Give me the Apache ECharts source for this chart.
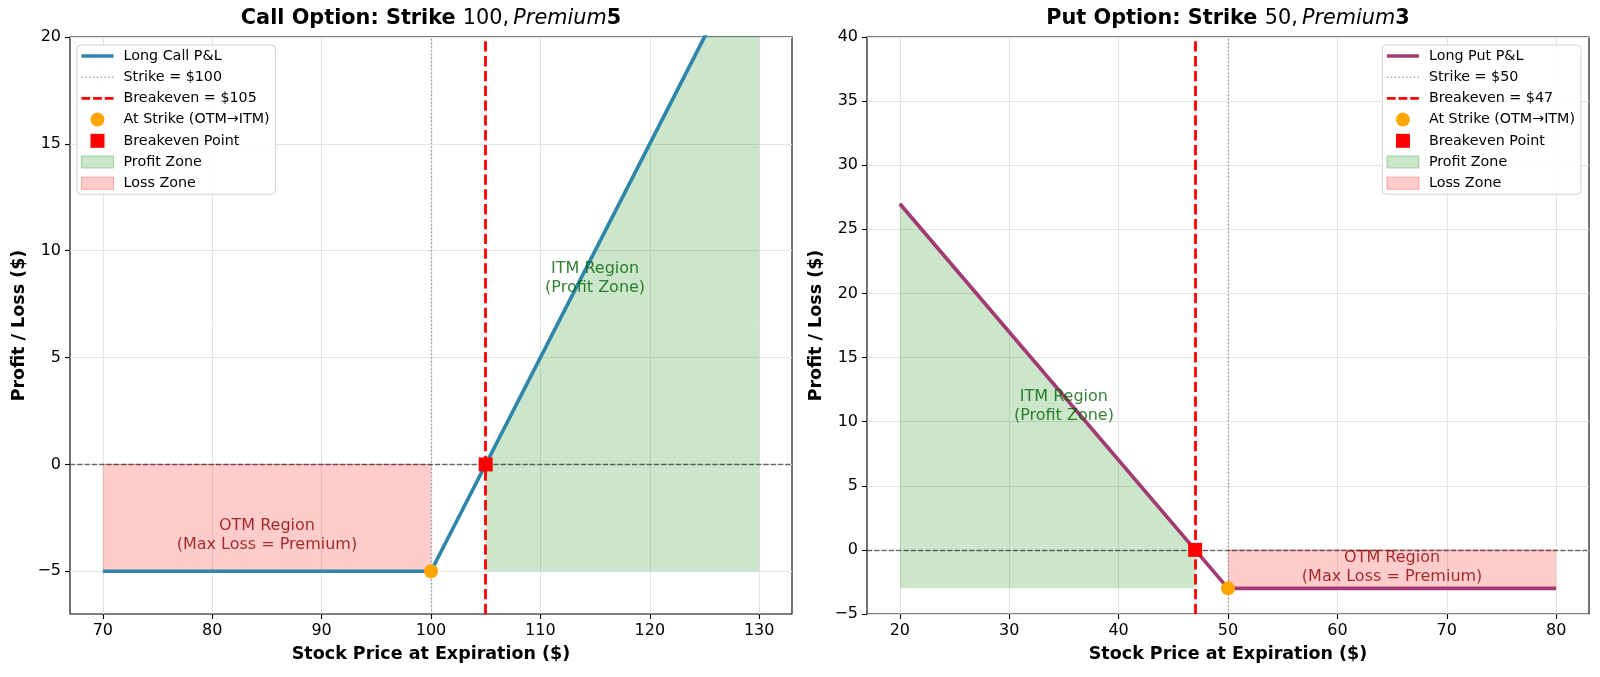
<!DOCTYPE html>
<html lang="en">
<head>
<meta charset="UTF-8">
<title>Option P&amp;L</title>
<script src="https://cdn.jsdelivr.net/npm/echarts@6/dist/echarts.min.js"></script>
<style>
    html, body { margin: 0; padding: 0; background: #fff; }
    #chart { width: 1600px; height: 677px; }
</style>
</head>
<body>
<div id="chart"></div>
<script>
    // call option
    const callPrice = [70, 100, 130];
    const callPnl = [-5, -5, 25];
    const callStrike = 100;
    const callBreakeven = 105;
    const callPremium = 5;
    const callProfitX = [105, 130];
    const callProfitTop = [0, 25];
    const callLossX = [70, 100];
    const callLossTop = [0, 0];
    const callXTicks = [70, 80, 90, 100, 110, 120, 130];
    const callYTicks = [-5, 0, 5, 10, 15, 20];
    const callXRange = [67, 133];
    const callYRange = [-7, 20];
    const callItmText = [115, 8.7];
    const callOtmText = [85, -3.3];

    // put option
    const putPrice = [20, 50, 80];
    const putPnl = [27, -3, -3];
    const putStrike = 50;
    const putBreakeven = 47;
    const putPremium = 3;
    const putProfitX = [20, 47];
    const putProfitTop = [27, 0];
    const putLossX = [50, 80];
    const putLossTop = [0, 0];
    const putXTicks = [20, 30, 40, 50, 60, 70, 80];
    const putYTicks = [-5, 0, 5, 10, 15, 20, 25, 30, 35, 40];
    const putXRange = [17, 83];
    const putYRange = [-5, 40];
    const putItmText = [35, 11.2];
    const putOtmText = [65, -1.4];

    const FONT = 'DejaVu Sans';
    const minus = v => String(v).replace('-', '\u2212');

    const dotPath = (() => {
        let p = 'path://';
        for (let x = 0; x < 32; x += 3.7) p += `M${x.toFixed(1)},0h1.4v1.4h-1.4z `;
        return p;
    })();
    const dashPath = 'path://M0,0h9v2.8h-9z M12,0h9v2.8h-9z M24,0h9v2.8h-9z';
    const solidPath = 'path://M0,0h32v3.5h-32z';
    const squarePath = 'path://M0,0h10v10h-10z';
    const patchPath = 'path://M0,0h29v11h-29z';

    const panels = [
        {
            kind: 'Call', color: '#2E86AB', price: callPrice, pnl: callPnl, strike: callStrike,
            breakeven: callBreakeven, premium: callPremium, profitX: callProfitX, profitTop: callProfitTop,
            lossX: callLossX, lossTop: callLossTop, xTicks: callXTicks, yTicks: callYTicks,
            xRange: callXRange, yRange: callYRange, itm: callItmText, otm: callOtmText,
            left: 70
        },
        {
            kind: 'Put', color: '#A23B72', price: putPrice, pnl: putPnl, strike: putStrike,
            breakeven: putBreakeven, premium: putPremium, profitX: putProfitX, profitTop: putProfitTop,
            lossX: putLossX, lossTop: putLossTop, xTicks: putXTicks, yTicks: putYTicks,
            xRange: putXRange, yRange: putYRange, itm: putItmText, otm: putOtmText,
            left: 867
        }
    ];

    const grids = [], xAxes = [], yAxes = [], titles = [], legends = [], series = [];

    panels.forEach((p, i) => {
        grids.push({
            left: p.left, top: 37, width: 722, height: 577,
            show: true, borderColor: '#000', borderWidth: 1.1
        });
        xAxes.push({
            gridIndex: i, type: 'value', min: p.xRange[0], max: p.xRange[1],
            splitLine: { show: false }, axisLine: { show: false, onZero: false },
            axisTick: { show: true, customValues: p.xTicks, length: 5, lineStyle: { color: '#000', width: 1.1 } },
            axisLabel: { customValues: p.xTicks, margin: 9, fontSize: 16, color: '#000', fontFamily: FONT, formatter: minus },
            name: 'Stock Price at Expiration ($)', nameLocation: 'middle', nameGap: 31,
            nameTextStyle: { fontWeight: 'bold', fontSize: 17.5, color: '#000', fontFamily: FONT }
        });
        yAxes.push({
            gridIndex: i, type: 'value', min: p.yRange[0], max: p.yRange[1],
            splitLine: { show: false }, axisLine: { show: false, onZero: false },
            axisTick: { show: true, customValues: p.yTicks, length: 5, lineStyle: { color: '#000', width: 1.1 } },
            axisLabel: { customValues: p.yTicks, margin: 9, fontSize: 16, color: '#000', fontFamily: FONT, formatter: minus },
            name: 'Profit / Loss ($)', nameLocation: 'middle', nameGap: 42,
            nameTextStyle: { fontWeight: 'bold', fontSize: 17.5, color: '#000', fontFamily: FONT }
        });
        titles.push({
            left: p.left + 361, top: 6, textAlign: 'center', padding: 0,
            text: `{b|${p.kind} Option: Strike }{n|${p.strike},\u2009}{i|Premium}{b|${p.premium}}`,
            textStyle: {
                rich: {
                    b: { fontFamily: FONT, fontWeight: 'bold', fontSize: 20.8, color: '#000', lineHeight: 25 },
                    n: { fontFamily: FONT, fontWeight: 'normal', fontSize: 20.8, color: '#000', lineHeight: 25 },
                    i: { fontFamily: FONT, fontWeight: 'normal', fontStyle: 'italic', fontSize: 20.8, color: '#000', lineHeight: 25 }
                }
            }
        });

        const lineName = `Long ${p.kind} P&L`;
        const strikeName = `Strike = $${p.strike}`;
        const beName = `Breakeven = $${p.breakeven}`;
        const ax = { xAxisIndex: i, yAxisIndex: i };

        const legendPos = i === 0 ? { left: 77 } : { right: 19 };
        legends.push(Object.assign({
            top: 45, orient: 'vertical', selectedMode: false,
            itemWidth: 32, itemHeight: 14, itemGap: 7.2,
            padding: [4, 6, 4, 4],
            backgroundColor: 'rgba(255,255,255,0.85)', borderColor: '#d3d3d3', borderWidth: 1, borderRadius: 4,
            textStyle: { fontFamily: FONT, fontSize: 14.3, lineHeight: 14, color: '#000', padding: [0, 0, 0, 5] },
            data: [
                { name: lineName, icon: solidPath, itemStyle: { color: p.color, borderWidth: 0 } },
                { name: strikeName, icon: dotPath, itemStyle: { color: 'rgba(128,128,128,0.7)', borderWidth: 0 } },
                { name: beName, icon: dashPath, itemStyle: { color: 'red', borderWidth: 0 } },
                { name: 'At Strike (OTM\u2192ITM)', icon: 'circle', itemStyle: { color: 'orange', borderWidth: 0 } },
                { name: 'Breakeven Point', icon: squarePath, itemStyle: { color: 'red', borderWidth: 0 } },
                { name: 'Profit Zone', icon: patchPath, itemStyle: { color: 'rgba(0,128,0,0.2)', borderColor: 'rgba(0,128,0,0.3)', borderWidth: 1 } },
                { name: 'Loss Zone', icon: patchPath, itemStyle: { color: 'rgba(255,0,0,0.2)', borderColor: 'rgba(255,0,0,0.3)', borderWidth: 1 } }
            ]
        }, legendPos));

        // grid lines
        series.push(Object.assign({
            type: 'line', data: [], silent: true, z: 0,
            markLine: {
                silent: true, symbol: 'none', z: 0, animation: false, label: { show: false },
                lineStyle: { color: '#e4e4e4', width: 1, type: 'solid' },
                data: [...p.xTicks.map(v => ({ xAxis: v })), ...p.yTicks.map(v => ({ yAxis: v }))]
            }
        }, ax));

        // zones
        series.push(Object.assign({
            name: 'Profit Zone', type: 'line', symbol: 'none', z: 1, silent: true,
            data: p.profitX.map((x, k) => [x, p.profitTop[k]]),
            lineStyle: { width: 1.2, color: 'rgba(0,128,0,0.25)' },
            areaStyle: { color: 'rgba(0,128,0,0.2)', opacity: 1, origin: -p.premium }
        }, ax));
        series.push(Object.assign({
            name: 'Loss Zone', type: 'line', symbol: 'none', z: 1, silent: true,
            data: p.lossX.map((x, k) => [x, p.lossTop[k]]),
            lineStyle: { width: 1.2, color: 'rgba(255,0,0,0.25)' },
            areaStyle: { color: 'rgba(255,0,0,0.2)', opacity: 1, origin: -p.premium }
        }, ax));

        // strike, breakeven, zero
        series.push(Object.assign({
            name: strikeName, type: 'line', data: [], silent: true,
            lineStyle: { color: 'gray', width: 1.4, type: [1.4, 2.3] },
            markLine: {
                silent: true, symbol: 'none', z: 2, animation: false, label: { show: false },
                lineStyle: { color: 'rgba(128,128,128,0.8)', width: 1.4, type: [1.4, 2.3] },
                data: [{ xAxis: p.strike }]
            }
        }, ax));
        series.push(Object.assign({
            type: 'line', data: [], silent: true,
            markLine: {
                silent: true, symbol: 'none', z: 2, animation: false, label: { show: false },
                lineStyle: { color: 'rgba(0,0,0,0.55)', width: 1.3, type: [5.1, 2.2] },
                data: [{ yAxis: 0 }]
            }
        }, ax));
        series.push(Object.assign({
            name: lineName, type: 'line', symbol: 'none', z: 3, silent: true,
            data: p.price.map((x, k) => [x, p.pnl[k]]),
            lineStyle: { color: p.color, width: 3.7 }
        }, ax));
        series.push(Object.assign({
            name: beName, type: 'line', data: [], silent: true,
            lineStyle: { color: 'red', width: 2.8, type: [10.3, 4.5] },
            markLine: {
                silent: true, symbol: 'none', z: 4, animation: false, label: { show: false },
                lineStyle: { color: 'red', width: 2.8, type: [10.3, 4.5] },
                data: [{ xAxis: p.breakeven }]
            }
        }, ax));

        // markers
        series.push(Object.assign({
            name: 'At Strike (OTM\u2192ITM)', type: 'scatter', symbol: 'circle', symbolSize: 14, z: 6, silent: true,
            data: [[p.strike, -p.premium]], itemStyle: { color: 'orange', opacity: 1 }
        }, ax));
        series.push(Object.assign({
            name: 'Breakeven Point', type: 'scatter', symbol: 'rect', symbolSize: 14, z: 7, silent: true,
            data: [[p.breakeven, 0]], itemStyle: { color: 'red', opacity: 1 }
        }, ax));

        // region notes
        const note = (pos, text, color) => Object.assign({
            type: 'scatter', symbolSize: 1, z: 8, silent: true,
            data: [pos], itemStyle: { color: 'rgba(0,0,0,0)' },
            label: {
                show: true, position: 'inside', formatter: text, color: color,
                fontSize: 16, lineHeight: 19, fontFamily: FONT, align: 'center'
            }
        }, ax);
        series.push(note(p.itm, 'ITM Region\n(Profit Zone)', '#006400'));
        series.push(note(p.otm, 'OTM Region\n(Max Loss = Premium)', '#8B0000'));
    });

    const chart = echarts.init(document.getElementById('chart'));
    chart.setOption({
        animation: false,
        backgroundColor: '#fff',
        title: titles,
        legend: legends,
        grid: grids,
        xAxis: xAxes,
        yAxis: yAxes,
        series: series
    });
</script>
</body>
</html>
